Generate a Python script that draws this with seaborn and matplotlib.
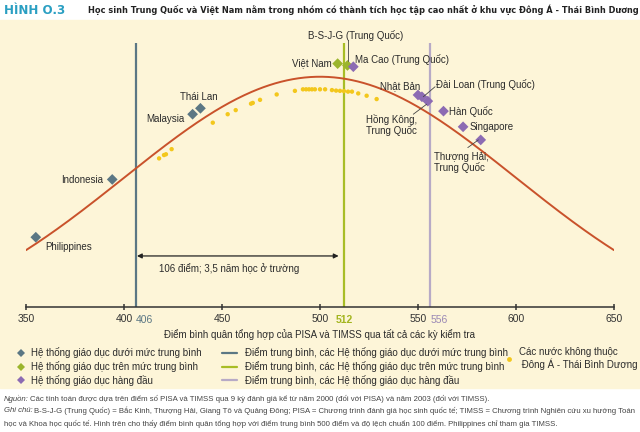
import numpy as np
import pandas as pd
import seaborn as sns
import matplotlib.pyplot as plt
from matplotlib.lines import Line2D
from matplotlib.patches import Rectangle

# Reference curve: mean 500, standard deviation 100 (as stated in the note)
MEAN, SD = 500, 100
x_ticks = [350, 400, 450, 500, 550, 600, 650]

# East Asia & Pacific systems: combined score, height on the chart, group
countries = ['Philippines', 'Indonesia', 'Malaysia', 'Thái Lan',
             'Việt Nam', 'B-S-J-G (Trung Quốc)',
             'Ma Cao (Trung Quốc)', 'Nhật Bản', 'Đài Loan (Trung Quốc)',
             'Hồng Kông,\nTrung Quốc', 'Hàn Quốc', 'Singapore',
             'Thượng Hải,\nTrung Quốc']
scores = [355, 394, 435, 439, 509, 514, 517, 550, 552, 555, 563, 573, 582]
heights = [37.5, 60.0, 85.4, 87.7, 105.1, 104.4, 103.9, 92.9, 92.2, 90.5,
           86.6, 80.5, 75.4]
groups = ['below'] * 4 + ['above'] * 2 + ['top'] * 7

# group averages
group_means = [406, 512, 556]

# countries outside East Asia & Pacific
other_scores = [417.9, 420.4, 421.4, 424.3, 445.3, 452.9, 457.0, 464.8, 465.7,
                469.4, 477.9, 487.2, 491.3, 492.9, 494.4, 495.9, 497.4, 500.0,
                502.6, 506.1, 508.2, 510.2, 512.2, 514.3, 516.3, 519.5, 523.8,
                528.9]
other_heights = [68.2, 69.5, 69.8, 71.8, 82.1, 85.4, 87.0, 89.5, 89.8, 91.0,
                 93.1, 94.5, 95.1, 95.1, 95.1, 95.1, 95.1, 95.1, 95.1, 94.8,
                 94.6, 94.5, 94.4, 94.2, 94.2, 93.5, 92.6, 91.3]

legend_markers = ['Hệ thống giáo dục dưới mức trung bình',
                  'Hệ thống giáo dục trên mức trung bình',
                  'Hệ thống giáo dục hàng đầu']
legend_lines = ['Điểm trung bình, các Hệ thống giáo dục dưới mức trung bình',
                'Điểm trung bình, các Hệ thống giáo dục trên mức trung bình',
                'Điểm trung bình, các Hệ thống giáo dục hàng đầu']
legend_other = 'Các nước không thuộc\n Đông Á - Thái Bình Dương'

# colours
cream = '#fdf5d8'
curve_col = '#c9522b'
dot_col = {'below': '#5b7784', 'above': '#9bb52c', 'top': '#8c6bb3'}
line_col = ['#5b7784', '#a8bd26', '#b7aac6']
mean_text_col = ['#5b7784', '#a3b51e', '#9a88b5']
yellow = '#f3c71c'
ink = '#2b2b2b'

sns.set_theme(style='white')
plt.rcParams['font.family'] = ['Liberation Sans', 'DejaVu Sans']

W, H = 640, 432
fig = plt.figure(figsize=(W / 100, H / 100), dpi=100)
fig.patch.set_facecolor('white')
fig.patches.append(Rectangle((0, 1 - 388 / H), 1, (388 - 20) / H,
                             transform=fig.transFigure, color=cream, zorder=-5))
renderer = fig.canvas.get_renderer()

ax = fig.add_axes([26 / W, 1 - 306.7 / H, 588 / W, 276.7 / H])
ax.set_facecolor('none')
ax.set_zorder(1)
ax.set_xlim(350, 650)
ax.set_ylim(10.44, 118.2)

# vertical average lines
for m, c in zip(group_means, line_col):
    ax.vlines(m, 10.44, 113.1, color=c, lw=1.6, zorder=1)

# normal curve
xs = np.linspace(350, 650, 400)
ys = 100 * np.exp(-0.5 * ((xs - MEAN) / SD) ** 2)
sns.lineplot(x=xs, y=ys, ax=ax, color=curve_col, lw=1.4, zorder=2)

# non-East Asia countries
sns.scatterplot(x=other_scores, y=other_heights, ax=ax, color=yellow, s=10,
                edgecolor='none', zorder=3)

df = pd.DataFrame({'country': countries, 'score': scores, 'height': heights,
                   'group': groups})
sns.scatterplot(data=df, x='score', y='height', hue='group', palette=dot_col,
                marker='D', s=30, edgecolor='none', legend=False, ax=ax,
                zorder=4)

# country labels: (text x, text y, ha)
label_pos = {
    'Philippines': (360, 33.7, 'left'),
    'Indonesia': (389.5, 59.8, 'right'),
    'Malaysia': (431, 83.6, 'right'),
    'Thái Lan': (438.4, 92.0, 'center'),
    'Việt Nam': (506, 105.2, 'right'),
    'B-S-J-G (Trung Quốc)': (518.2, 116.0, 'center'),
    'Ma Cao (Trung Quốc)': (518, 106.8, 'left'),
    'Nhật Bản': (551.4, 96.4, 'right'),
    'Đài Loan (Trung Quốc)': (559.2, 96.8, 'left'),
    'Hồng Kông,\nTrung Quốc': (523.5, 81.2, 'left'),
    'Hàn Quốc': (565.8, 86.6, 'left'),
    'Singapore': (576.5, 80.3, 'left'),
    'Thượng Hải,\nTrung Quốc': (558.2, 66.6, 'left'),
}
for name, (tx, ty, ha) in label_pos.items():
    ax.text(tx, ty, name, ha=ha, va='center', fontsize=7, color=ink,
            linespacing=1.1, zorder=5)

# leader lines
leaders = [((514.4, 114.3), (514.4, 106.2)),
           ((558.7, 96.1), (552.7, 92.2)),
           ((547.6, 85.4), (554.4, 89.3)),
           ((575.4, 72.4), (580.8, 75.4))]
for (x0, y0), (x1, y1) in leaders:
    ax.plot([x0, x1], [y0, y1], color='#444444', lw=0.6, zorder=5)

# gap arrow between the first two averages
ax.annotate('', xy=(group_means[0] + 0.6, 30.2),
            xytext=(group_means[1] - 2.5, 30.2),
            arrowprops=dict(arrowstyle='<|-|>', color='#222222', lw=0.9,
                            mutation_scale=7, shrinkA=0, shrinkB=0))
ax.text(453.6, 25.4, f'{group_means[1] - group_means[0]} điểm; 3,5 năm học ở trường',
        ha='center', va='center', fontsize=7, color=ink)

# axis styling
for s in ['left', 'top', 'right']:
    ax.spines[s].set_visible(False)
ax.spines['bottom'].set_color('#333333')
ax.spines['bottom'].set_linewidth(1.1)
ax.set_yticks([])
ax.set_xticks(x_ticks)
ax.tick_params(axis='x', direction='inout', length=5, width=1.1,
               color='#333333', labelsize=7.5, labelcolor='#333333', pad=3,
               bottom=True)
ax.set_xlabel('Điểm bình quân tổng hợp của PISA và TIMSS qua tất cả các kỳ kiểm tra',
              fontsize=7, color=ink, labelpad=3)
ax.set_ylabel('')

offsets = [0, -4, 0.5]
for m, c, off in zip(group_means, mean_text_col, offsets):
    ax.annotate(str(m), xy=(m + off, 0), xycoords=('data', 'axes fraction'),
                xytext=(0, -6), textcoords='offset points', ha='left',
                va='top', fontsize=7.5, color=c,
                fontweight='bold' if m == 512 else 'normal')

# title
fig.text(4 / W, 1 - 10 / H, 'HÌNH O.3', color='#2a9fc2', fontsize=8.6,
         fontweight='bold', va='center', ha='left', family='DejaVu Sans')
title = fig.text(88 / W, 1 - 10 / H,
                 'Học sinh Trung Quốc và Việt Nam nằm trong nhóm có thành tích học tập '
                 'cao nhất ở khu vực Đông Á - Thái Bình Dương',
                 color='#222222', fontsize=8, fontweight='bold', va='center',
                 ha='left', family='DejaVu Sans', fontstretch='condensed')
tw = title.get_window_extent(renderer).width
title.set_fontsize(8 * 548 / tw)

# legends (three columns)
leg_kw = dict(loc='upper left', frameon=False, fontsize=7, borderpad=0,
              borderaxespad=0, labelspacing=0.3, labelcolor=ink)
h1 = [Line2D([], [], ls='none', marker='D', markersize=4.5, color=dot_col[g],
             markeredgewidth=0) for g in ['below', 'above', 'top']]
leg1 = fig.legend(h1, legend_markers, bbox_to_anchor=(15.8 / W, 1 - 347 / H),
                  handlelength=1.0, handletextpad=0.55, **leg_kw)
h2 = [Line2D([], [], color=c, lw=1.6) for c in line_col]
leg2 = fig.legend(h2, legend_lines, bbox_to_anchor=(221.7 / W, 1 - 347 / H),
                  handlelength=1.6, handletextpad=0.8, **leg_kw)
h3 = [Line2D([], [], ls='none', marker='o', markersize=3.5, color=yellow,
             markeredgewidth=0)]
leg3 = fig.legend(h3, [legend_other], bbox_to_anchor=(504.1 / W, 1 - 347 / H),
                  handlelength=1.0, handletextpad=0.53, **leg_kw)

# notes
note_kw = dict(fontsize=5.6, color='#444444', va='center', ha='left')


def note_line(y_px, parts):
    x = 4 / W
    for txt, style in parts:
        t = fig.text(x, 1 - y_px / H, txt, style=style, **note_kw)
        x = t.get_window_extent(renderer).x1 / fig.bbox.width + 1.5 / W


note_line(398.5, [('Nguồn:', 'italic'),
                  ('Các tính toán được dựa trên điểm số PISA và TIMSS qua 9 kỳ đánh giá '
                   'kể từ năm 2000 (đối với PISA) và năm 2003 (đối với TIMSS).', 'normal')])
note_line(411, [('Ghi chú:', 'italic'),
                ('B-S-J-G (Trung Quốc) = Bắc Kinh, Thượng Hải, Giang Tô và Quảng Đông; '
                 'PISA = Chương trình đánh giá học sinh quốc tế; TIMSS = Chương trình '
                 'Nghiên cứu xu hướng Toán', 'normal')])
note_line(423.5, [('học và Khoa học quốc tế. Hình trên cho thấy điểm bình quân tổng hợp '
                   'với điểm trung bình 500 điểm và độ lệch chuẩn 100 điểm. '
                   'Philippines chỉ tham gia TIMSS.', 'normal')])

fig.savefig('out.png', dpi=100, facecolor='white')
